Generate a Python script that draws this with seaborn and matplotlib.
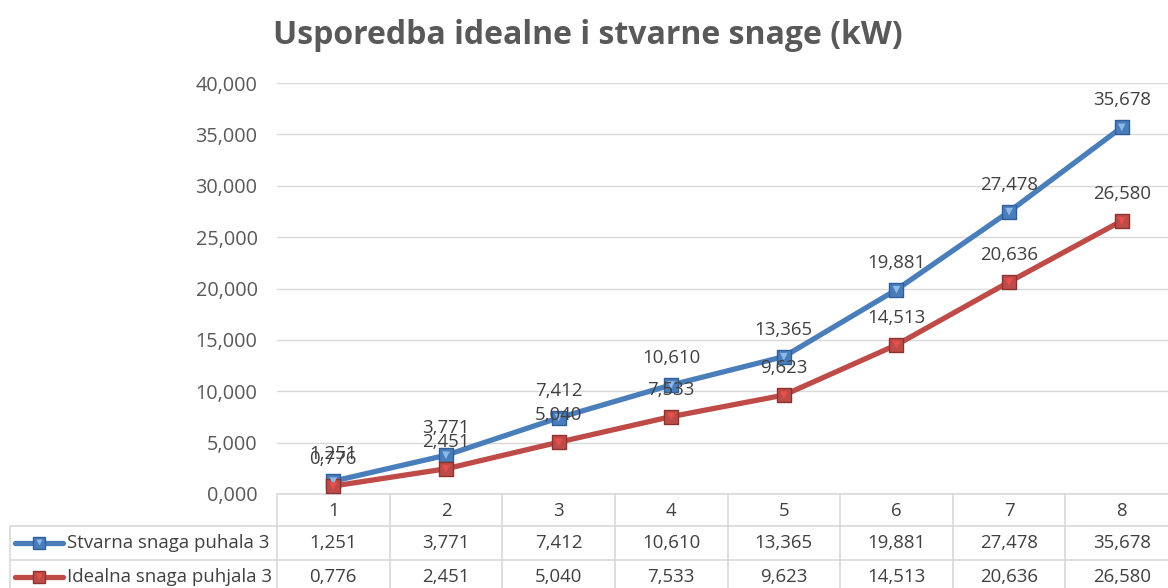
import matplotlib
matplotlib.use("Agg")
import matplotlib.pyplot as plt
import seaborn as sns
import pandas as pd
from matplotlib.lines import Line2D
from matplotlib.transforms import blended_transform_factory

# ---- data ----
categories = [1, 2, 3, 4, 5, 6, 7, 8]
stvarna = [1.251, 3.771, 7.412, 10.610, 13.365, 19.881, 27.478, 35.678]
idealna = [0.776, 2.451, 5.040, 7.533, 9.623, 14.513, 20.636, 26.580]
series_names = ["Stvarna snaga puhala 3", "Idealna snaga puhjala 3"]
title = "Usporedba idealne i stvarne snage (kW)"
y_ticks = [0, 5, 10, 15, 20, 25, 30, 35, 40]


def fmt(v):
    return f"{v:.3f}".replace(".", ",")


sns.set_theme(style="white")
plt.rcParams["font.family"] = ["Open Sans", "DejaVu Sans"]

FS = 13.4
FS_TICK = 14.3

W, H = 1168, 588
fig = plt.figure(figsize=(W / 100, H / 100), dpi=100)
ax_left, ax_right, ax_top, ax_bottom = 277, 1178, 83, 494
ax = fig.add_axes([ax_left / W, 1 - ax_bottom / H, (ax_right - ax_left) / W, (ax_bottom - ax_top) / H])

blue, blue_dark, blue_light = "#4A7EBB", "#2F5F98", "#8DB8EA"
red, red_dark, red_light = "#BE4B48", "#8C3330", "#E8504C"
grid_c = "#D9D9D9"
txt_c = "#404040"
tick_c = "#595959"

df = pd.DataFrame({
    "x": categories * 2,
    "y": stvarna + idealna,
    "s": [series_names[0]] * 8 + [series_names[1]] * 8,
})

sns.lineplot(data=df, x="x", y="y", hue="s", palette=[blue, red], linewidth=3.8,
             legend=False, ax=ax, zorder=3)
# markers
for vals, c, cd, cl in [(stvarna, blue, blue_dark, blue_light), (idealna, red, red_dark, red_light)]:
    sns.scatterplot(x=categories, y=vals, marker="s", s=110, color=c, edgecolor=cd,
                    linewidth=1.0, ax=ax, zorder=4, legend=False)
    sns.scatterplot(x=categories, y=vals, marker="v", s=30, color=cl, edgecolor="none",
                    linewidth=0, ax=ax, zorder=5, legend=False)

# data labels
for vals in (stvarna, idealna):
    for xv, yv in zip(categories, vals):
        ax.annotate(fmt(yv), (xv, yv), xytext=(0, 27), textcoords="offset pixels",
                    ha="center", va="center", fontsize=FS, color=txt_c, zorder=6)

ax.set_xlim(0.5, 8.5)
ax.set_ylim(0, 40)
ax.set_yticks(y_ticks)
ax.set_yticklabels([fmt(v) for v in y_ticks], fontsize=FS_TICK, color=tick_c)
ax.set_xticks([])
ax.set_xlabel("")
ax.set_ylabel("")
ax.tick_params(axis="y", length=0, pad=14)
ax.yaxis.grid(True, color=grid_c, linewidth=1)
ax.set_axisbelow(True)
for side in ["left", "right", "top"]:
    ax.spines[side].set_visible(False)
ax.spines["bottom"].set_color(grid_c)
ax.spines["bottom"].set_linewidth(1.2)

# ---- data table ----
trans = blended_transform_factory(ax.transData, ax.transAxes)
ah = ax_bottom - ax_top


def yf(py):
    return -(py - ax_bottom) / ah


row_hdr = 526
row1 = 560
row_end = 600
for b in [c - 0.5 for c in categories] + [categories[-1] + 0.5]:
    ax.add_line(Line2D([b, b], [0, yf(row_end)], transform=trans, color=grid_c,
                       linewidth=1.2, clip_on=False))

for py in (row_hdr, row1):
    fig.add_artist(Line2D([10 / W, 1.0], [1 - py / H, 1 - py / H], transform=fig.transFigure,
                          color=grid_c, linewidth=1.2))
fig.add_artist(Line2D([10 / W, 10 / W], [1 - row_hdr / H, 0], transform=fig.transFigure,
                      color=grid_c, linewidth=1.2))

for c in categories:
    ax.text(c, yf((ax_bottom + row_hdr) / 2 + 1), str(c), transform=trans, ha="center",
            va="center", fontsize=FS, color=txt_c, clip_on=False)

rows = [(stvarna, series_names[0], blue, blue_dark, blue_light, (row_hdr + row1) / 2),
        (idealna, series_names[1], red, red_dark, red_light, (row1 + row_end) / 2 - 3)]
for vals, name, c, cd, cl, py in rows:
    for xv, yv in zip(categories, vals):
        ax.text(xv, yf(py), fmt(yv), transform=trans, ha="center", va="center",
                fontsize=FS, color=txt_c, clip_on=False)
    yy = 1 - py / H
    fig.add_artist(Line2D([15 / W, 63 / W], [yy, yy], transform=fig.transFigure, color=c,
                          linewidth=3.8, solid_capstyle="round"))
    fig.add_artist(Line2D([39 / W], [yy], transform=fig.transFigure, marker="s",
                          markersize=9, color=c, markeredgecolor=cd, linestyle="none"))
    fig.add_artist(Line2D([39 / W], [yy + 1.5 / H], transform=fig.transFigure, marker="v",
                          markersize=5, color=cl, markeredgecolor="none", linestyle="none"))
    fig.text(67 / W, yy, name, ha="left", va="center", fontsize=FS, color=txt_c)

fig.text(588 / W, 1 - 36 / H, title, ha="center", va="center", fontsize=23,
         fontweight="bold", color=tick_c)

fig.savefig("out.png", dpi=100)
